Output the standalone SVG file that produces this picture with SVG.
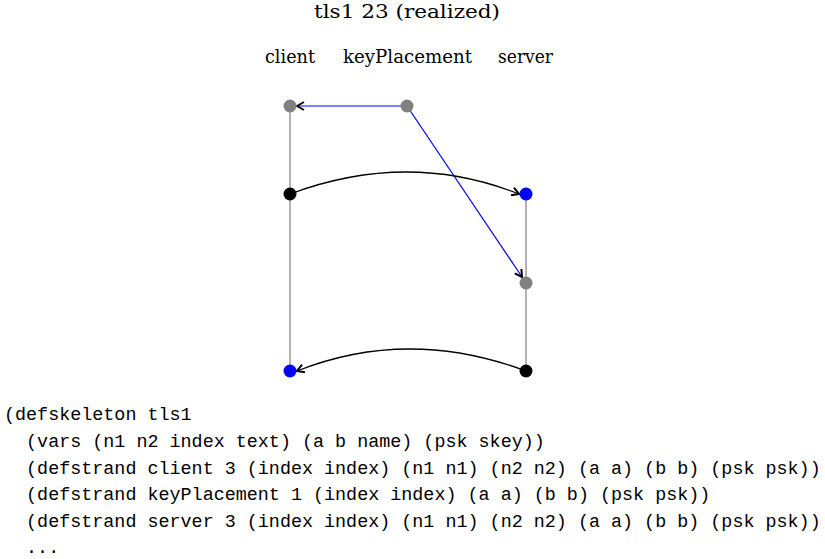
<svg xmlns="http://www.w3.org/2000/svg" width="825" height="559" viewBox="0 0 825 559">
<style>
.t{font-family:"DejaVu Serif","Liberation Serif",serif;font-size:18px;fill:#000;text-anchor:middle}
.m{font-family:"Liberation Mono","DejaVu Sans Mono",monospace;font-size:18.4px;fill:#000;white-space:pre}
.strand{stroke:#808080;stroke-width:1.2;fill:none}
.msg{stroke:#000;stroke-width:1.3;fill:none;marker-end:url(#ah)}
.blue{stroke:#0000ff;stroke-width:1.2;fill:none;marker-end:url(#ah)}
</style>
<defs>
<marker id="ah" viewBox="0 0 10 10" refX="9" refY="5" markerWidth="10" markerHeight="10" markerUnits="userSpaceOnUse" orient="auto">
<path d="M2,1 L9,5 L2,9" fill="none" stroke="#000" stroke-width="2"/>
</marker>
</defs>
<rect width="825" height="559" fill="#fff"/>
<text class="t" x="407" y="18" textLength="186" lengthAdjust="spacingAndGlyphs">tls1 23 (realized)</text>
<text class="t" x="290" y="63" textLength="50" lengthAdjust="spacingAndGlyphs">client</text>
<text class="t" x="407.5" y="63" textLength="129" lengthAdjust="spacingAndGlyphs">keyPlacement</text>
<text class="t" x="525.5" y="63" textLength="55" lengthAdjust="spacingAndGlyphs">server</text>
<g id="strands">
<line class="strand" x1="290" y1="106" x2="290" y2="371"/>
<line class="strand" x1="526" y1="194" x2="526" y2="371"/>
</g>
<g id="connectors">
<line class="blue" x1="407" y1="106" x2="297" y2="106"/>
<line class="blue" x1="407" y1="106" x2="522" y2="277"/>
<path class="msg" d="M290,194 Q408,150 519,194"/>
<path class="msg" d="M526,371 Q408,327 297,371"/>
</g>
<g id="n-client-1"><circle cx="290" cy="106" r="6.5" fill="#808080"/></g>
<g id="n-client-2"><circle cx="290" cy="194" r="6.5" fill="#000"/></g>
<g id="n-client-3"><circle cx="290" cy="371" r="6.5" fill="#0000ff"/></g>
<g id="n-key-1"><circle cx="407" cy="106" r="6.5" fill="#808080"/></g>
<g id="n-server-1"><circle cx="526" cy="194" r="6.5" fill="#0000ff"/></g>
<g id="n-server-2"><circle cx="526" cy="283" r="6.5" fill="#808080"/></g>
<g id="n-server-3"><circle cx="526" cy="371" r="6.5" fill="#000"/></g>
<g id="code">
<text class="m" x="4" y="420">(defskeleton tls1</text>
<text class="m" x="4" y="447">  (vars (n1 n2 index text) (a b name) (psk skey))</text>
<text class="m" x="4" y="474">  (defstrand client 3 (index index) (n1 n1) (n2 n2) (a a) (b b) (psk psk))</text>
<text class="m" x="4" y="500">  (defstrand keyPlacement 1 (index index) (a a) (b b) (psk psk))</text>
<text class="m" x="4" y="527">  (defstrand server 3 (index index) (n1 n1) (n2 n2) (a a) (b b) (psk psk))</text>
<text class="m" x="4" y="553">  ...</text>
</g>
</svg>
